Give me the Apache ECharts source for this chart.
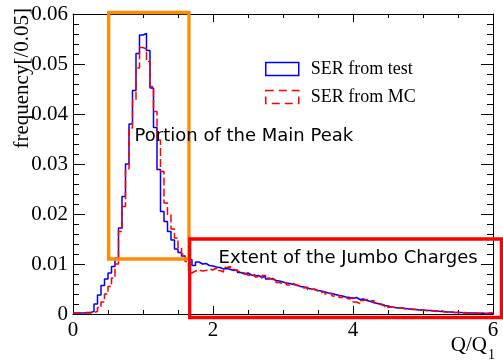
<!DOCTYPE html>
<html>
<head>
<meta charset="utf-8">
<script src="https://cdn.jsdelivr.net/npm/echarts@6/dist/echarts.min.js"></script>
<style>
  html, body { margin: 0; padding: 0; background: #fff; }
  #chart { width: 503px; height: 362px; }
</style>
</head>
<body>
<div id="chart"></div>
<script>
// histogram bins of width 0.05 in Q/Q1, from 0 to 6
const binWidth = 0.05
const nBins = 120

// SER from test (blue, solid)
const testFreq = [
  0.0002, 0.0002, 0.0002, 0.0003, 0.0003, 0.0005, 0.0020, 0.0038, 0.0057, 0.0070,
  0.0082, 0.0095, 0.0112, 0.0172, 0.0235, 0.0300, 0.0380, 0.0447, 0.0521, 0.0558,
  0.0561, 0.0527, 0.0452, 0.0373, 0.0289, 0.0205, 0.0185, 0.0165, 0.0148, 0.0130,
  0.0123, 0.0116, 0.0111, 0.0108, 0.0097, 0.0104, 0.0100, 0.0101, 0.0097, 0.0096,
  0.0094, 0.0093, 0.0090, 0.0091, 0.0089, 0.0087, 0.0088, 0.0083, 0.0080, 0.0082,
  0.0078, 0.0076, 0.0077, 0.0073, 0.0076, 0.0070, 0.0071, 0.0067, 0.0066, 0.0064,
  0.0062, 0.0061, 0.0059, 0.0058, 0.0055, 0.0054, 0.0052, 0.0050, 0.0049, 0.0047,
  0.0046, 0.0044, 0.0042, 0.0041, 0.0039, 0.0037, 0.0036, 0.0034, 0.0033, 0.0031,
  0.0033, 0.0029, 0.0030, 0.0027, 0.0025, 0.0023, 0.0021, 0.0019, 0.0017, 0.0016,
  0.0014, 0.0013, 0.0012, 0.0012, 0.0011, 0.0010, 0.0009, 0.0009, 0.0008, 0.0008,
  0.0007, 0.0007, 0.0006, 0.0006, 0.0005, 0.0005, 0.0004, 0.0004, 0.0003, 0.0003,
  0.0003, 0.0002, 0.0002, 0.0002, 0.0002, 0.0001, 0.0002, 0.0001, 0.0001, 0.0001
]

// SER from MC (red, dashed)
const mcFreq = [
  0.0002, 0.0002, 0.0002, 0.0002, 0.0002, 0.0003, 0.0005, 0.0013, 0.0024, 0.0040,
  0.0055, 0.0072, 0.0100, 0.0165, 0.0215, 0.0290, 0.0372, 0.0428, 0.0492, 0.0533,
  0.0530, 0.0505, 0.0455, 0.0405, 0.0348, 0.0285, 0.0222, 0.0199, 0.0170, 0.0152,
  0.0133, 0.0120, 0.0105, 0.0082, 0.0086, 0.0088, 0.0086, 0.0087, 0.0090, 0.0088,
  0.0092, 0.0087, 0.0084, 0.0093, 0.0095, 0.0089, 0.0086, 0.0084, 0.0082, 0.0078,
  0.0076, 0.0079, 0.0074, 0.0072, 0.0077, 0.0072, 0.0069, 0.0070, 0.0063, 0.0060,
  0.0063, 0.0058, 0.0061, 0.0057, 0.0056, 0.0052, 0.0054, 0.0049, 0.0050, 0.0046,
  0.0043, 0.0045, 0.0040, 0.0041, 0.0036, 0.0038, 0.0033, 0.0032, 0.0030, 0.0033,
  0.0024, 0.0021, 0.0027, 0.0029, 0.0026, 0.0027, 0.0022, 0.0020, 0.0018, 0.0013,
  0.0014, 0.0013, 0.0012, 0.0012, 0.0010, 0.0010, 0.0010, 0.0009, 0.0008, 0.0008,
  0.0007, 0.0008, 0.0006, 0.0005, 0.0008, 0.0004, 0.0004, 0.0005, 0.0003, 0.0003,
  0.0002, 0.0003, 0.0002, 0.0002, 0.0002, 0.0002, 0.0001, 0.0001, 0.0002, 0.0003
]

const seriesNames = ['SER from test', 'SER from MC']

// boxes drawn over the plot: [x0, y0, x1, y1] in data units
const peakBox = [0.51, 0.011, 1.657, 0.0603]
const jumboBox = [1.667, -0.0007, 6.12, 0.015]

const serif = '"Liberation Serif", "Times New Roman", serif'
const sans = '"DejaVu Sans", sans-serif'

// step-line points: left edge of each bin, plus closing point at the right edge
const toSteps = (vals) => {
  const pts = vals.map((v, i) => [i * binWidth, v])
  pts.push([nBins * binWidth, vals[vals.length - 1]])
  return pts
}

const chart = echarts.init(document.getElementById('chart'))

const xTicks = (show) => ({
  type: 'value',
  min: 0,
  max: 6,
  interval: 2,
  axisLine: { show: true, onZero: false, lineStyle: { color: '#000', width: 1 } },
  axisTick: { show: true, inside: true, length: 8, lineStyle: { color: '#000' } },
  minorTick: { show: true, splitNumber: 4, length: 4, lineStyle: { color: '#000' } },
  splitLine: { show: false },
  axisLabel: {
    show: show,
    color: '#000',
    fontFamily: serif,
    fontSize: 21,
    margin: 6
  }
})

const yTicks = (show) => ({
  type: 'value',
  min: 0,
  max: 0.06,
  interval: 0.01,
  axisLine: { show: true, onZero: false, lineStyle: { color: '#000', width: 1 } },
  axisTick: { show: true, inside: true, length: 12, lineStyle: { color: '#000' } },
  minorTick: { show: true, splitNumber: 5, length: 6, lineStyle: { color: '#000' } },
  splitLine: { show: false },
  axisLabel: {
    show: show,
    color: '#000',
    fontFamily: serif,
    fontSize: 21,
    margin: 5
  }
})

const option = {
  animation: false,
  backgroundColor: '#fff',
  grid: { left: 73, right: 10, top: 14, bottom: 48 },
  xAxis: [
    Object.assign(xTicks(true), { position: 'bottom' }),
    Object.assign(xTicks(false), { position: 'top' })
  ],
  yAxis: [
    Object.assign(yTicks(true), { position: 'left' }),
    Object.assign(yTicks(false), { position: 'right' })
  ],
  legend: {
    left: 260,
    top: 55,
    orient: 'vertical',
    itemWidth: 33,
    itemHeight: 13,
    itemGap: 10,
    formatter: '{t|{name}}',
    textStyle: {
      color: '#000',
      fontFamily: serif,
      fontSize: 18,
      rich: { t: { color: '#000', fontFamily: serif, fontSize: 18, padding: [0, 0, 0, 7] } }
    },
    data: [
      {
        name: seriesNames[0],
        icon: 'rect',
        itemStyle: { color: 'rgba(0,0,0,0)', borderColor: '#0000ff', borderWidth: 1.5, borderType: 'solid' }
      },
      {
        name: seriesNames[1],
        icon: 'rect',
        itemStyle: { color: 'rgba(0,0,0,0)', borderColor: '#ff0000', borderWidth: 1.5, borderType: [8, 5] }
      }
    ]
  },
  series: [
    {
      name: seriesNames[0],
      type: 'line',
      step: 'end',
      symbol: 'none',
      data: toSteps(testFreq),
      itemStyle: { color: '#0000ff' },
      lineStyle: { color: '#0000ff', width: 1.5 }
    },
    {
      name: seriesNames[1],
      type: 'line',
      step: 'end',
      symbol: 'none',
      data: toSteps(mcFreq),
      itemStyle: { color: '#ff0000' },
      lineStyle: { color: '#ff0000', width: 1.5, type: [8, 3] }
    }
  ]
}

chart.setOption(option)

// annotations placed through the axes' own scale
const px = (x, y) => chart.convertToPixel({ xAxisIndex: 0, yAxisIndex: 0 }, [x, y])
const boxRect = (b, color) => {
  const p0 = px(b[0], b[3])
  const p1 = px(b[2], b[1])
  return {
    type: 'rect',
    z: 100,
    shape: { x: p0[0], y: p0[1], width: p1[0] - p0[0], height: p1[1] - p0[1] },
    style: { fill: 'none', stroke: color, lineWidth: 3.3 }
  }
}
const peakText = px(0.88, 0.0355)
const jumboText = px(2.08, 0.0112)

chart.setOption({
  graphic: [
    boxRect(peakBox, '#ff8c00'),
    boxRect(jumboBox, '#ff0000'),
    {
      type: 'text', z: 101, x: peakText[0], y: peakText[1],
      style: { text: 'Portion of the Main Peak', font: '18px ' + sans, fill: '#000', align: 'left', verticalAlign: 'middle' }
    },
    {
      type: 'text', z: 101, x: jumboText[0], y: jumboText[1],
      style: { text: 'Extent of the Jumbo Charges', font: '18px ' + sans, fill: '#000', align: 'left', verticalAlign: 'middle' }
    },
    {
      type: 'text', z: 101, x: 22, y: 8, rotation: Math.PI / 2,
      style: { text: 'frequency[/0.05]', font: '21px ' + serif, fill: '#000', align: 'right', verticalAlign: 'middle' }
    },
    {
      type: 'text', z: 101, x: 487, y: 345,
      style: { text: 'Q/Q', font: '21px ' + serif, fill: '#000', align: 'right', verticalAlign: 'middle' }
    },
    {
      type: 'text', z: 101, x: 488, y: 355,
      style: { text: '1', font: '14px ' + serif, fill: '#000', align: 'left', verticalAlign: 'middle' }
    }
  ]
})
</script>
</body>
</html>
